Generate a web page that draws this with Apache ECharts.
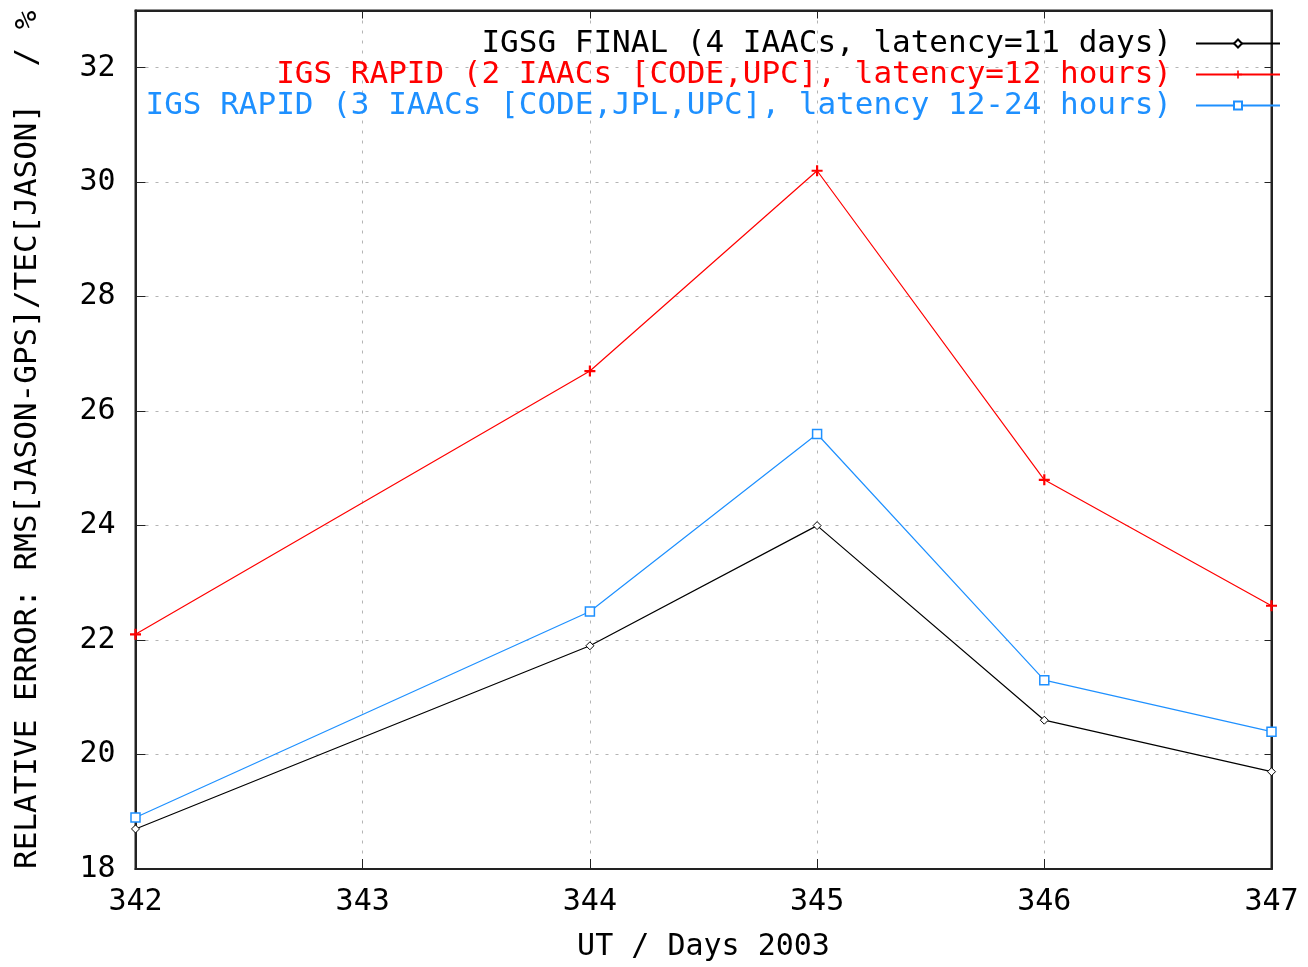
<!DOCTYPE html>
<html>
<head>
<meta charset="utf-8">
<title>Relative error of GIM TEC vs JASON</title>
<script src="https://cdn.jsdelivr.net/npm/echarts@6/dist/echarts.min.js"></script>
<style>
  html, body { margin: 0; padding: 0; background: #ffffff; }
  #chart { width: 1308px; height: 967px; }
</style>
</head>
<body>
<div id="chart"></div>
<script>
// Day of year 2003
const days = [342, 344, 345, 346, 347];

// Relative error RMS[JASON-GPS]/TEC[JASON] in %
const igsgFinal = [18.7, 21.9, 24.0, 20.6, 19.7];
const igsRapid2 = [22.1, 26.7, 30.2, 24.8, 22.6];
const igsRapid3 = [18.9, 22.5, 25.6, 21.3, 20.4];

const seriesNames = [
  'IGSG FINAL (4 IAACs, latency=11 days)',
  'IGS RAPID (2 IAACs [CODE,UPC], latency=12 hours)',
  'IGS RAPID (3 IAACs [CODE,JPL,UPC], latency 12-24 hours)'
];
const seriesColors = ['#000000', '#ff0000', '#1e90ff'];

const FONT = '"DejaVu Sans Mono", "Liberation Mono", monospace';

function pairs(xs, ys) {
  return xs.map((x, i) => [x, ys[i]]);
}

// filled plus sign used as the point marker of the 2-centre rapid product
const plusPath = 'path://M-1,-5H1V-1H5V1H1V5H-1V1H-5V-1H-1Z';

const chart = echarts.init(document.getElementById('chart'), null, { renderer: 'canvas' });

const gridLine = { show: true, lineStyle: { color: '#b4b4b4', type: [3, 7], width: 1 } };
const frameLine = { show: true, lineStyle: { color: '#222222', width: 2 } };

chart.setOption({
  backgroundColor: '#ffffff',
  animation: false,
  grid: {
    left: 135.5, right: 36.5, top: 10.5, bottom: 92.5,
    show: true, borderColor: '#222222', borderWidth: 2, backgroundColor: 'transparent'
  },
  legend: {
    orient: 'vertical',
    right: 22,
    top: 23,
    align: 'right',
    itemWidth: 84,
    itemHeight: 10,
    itemGap: 0,
    textStyle: { fontFamily: FONT, fontSize: 31, lineHeight: 31, padding: [0, 19, 0, 0] },
    data: seriesNames.map((n, i) => ({ name: n, textStyle: { color: seriesColors[i] } }))
  },
  xAxis: [{
    type: 'value',
    min: 342, max: 347, interval: 1,
    name: 'UT / Days 2003',
    nameLocation: 'middle',
    nameGap: 63,
    nameTextStyle: { fontFamily: FONT, fontSize: 30, color: '#000000' },
    axisLine: frameLine,
    axisTick: { show: true, inside: true, length: 10, lineStyle: { color: '#222222' } },
    axisLabel: { fontFamily: FONT, fontSize: 30, color: '#000000', margin: 18 },
    splitLine: gridLine
  }, {
    type: 'value', position: 'top',
    min: 342, max: 347, interval: 1,
    axisLine: frameLine,
    axisTick: { show: true, inside: true, length: 8, lineStyle: { color: '#222222' } },
    axisLabel: { show: false },
    splitLine: { show: false }
  }],
  yAxis: [{
    type: 'value',
    min: 18, max: 33, interval: 2,
    name: 'RELATIVE ERROR: RMS[JASON-GPS]/TEC[JASON]  / %',
    nameLocation: 'middle',
    nameRotate: 90,
    nameGap: 92,
    nameTextStyle: { fontFamily: FONT, fontSize: 31, color: '#000000' },
    axisLine: frameLine,
    axisTick: { show: true, inside: true, length: 10, lineStyle: { color: '#222222' } },
    axisLabel: {
      fontFamily: FONT, fontSize: 30, color: '#000000', margin: 20,
      formatter: v => (v % 2 === 0 ? String(v) : '')
    },
    splitLine: gridLine
  }, {
    type: 'value', position: 'right',
    min: 18, max: 33, interval: 2,
    axisLine: frameLine,
    axisTick: { show: true, inside: true, length: 7, lineStyle: { color: '#222222' } },
    axisLabel: { show: false },
    splitLine: { show: false }
  }],
  series: [
    {
      name: seriesNames[0], type: 'line', data: pairs(days, igsgFinal),
      color: seriesColors[0],
      lineStyle: { width: 1.2, color: seriesColors[0] },
      symbol: 'diamond', symbolSize: 8,
      itemStyle: { color: '#ffffff', borderColor: seriesColors[0], borderWidth: 1 },
      z: 3
    },
    {
      name: seriesNames[1], type: 'line', data: pairs(days, igsRapid2),
      color: seriesColors[1],
      lineStyle: { width: 1.2, color: seriesColors[1] },
      symbol: plusPath, symbolSize: 11,
      itemStyle: { color: seriesColors[1], borderWidth: 0 },
      z: 3
    },
    {
      name: seriesNames[2], type: 'line', data: pairs(days, igsRapid3),
      color: seriesColors[2],
      lineStyle: { width: 1.2, color: seriesColors[2] },
      symbol: 'rect', symbolSize: 9,
      itemStyle: { color: '#ffffff', borderColor: seriesColors[2], borderWidth: 1.5 },
      z: 3
    }
  ]
});
</script>
</body>
</html>
